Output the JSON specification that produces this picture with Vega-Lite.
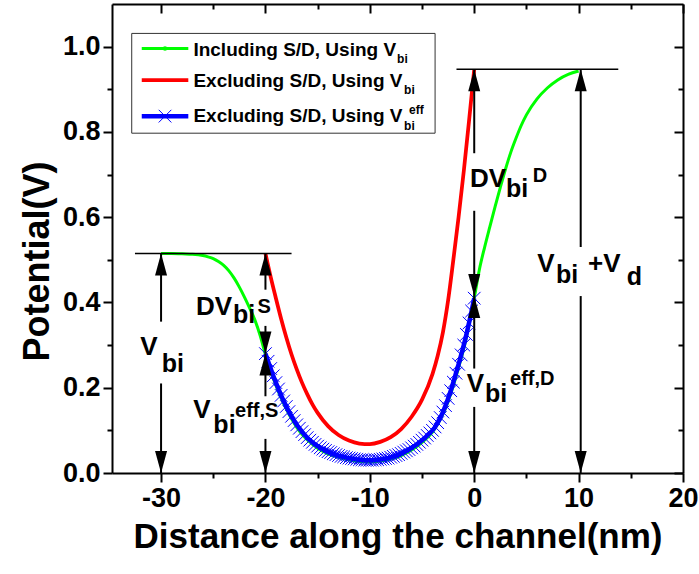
{
  "$schema": "https://vega.github.io/schema/vega-lite/v6.json",
  "width": 571,
  "height": 469,
  "autosize": "none",
  "padding": {"left": 112, "top": 4, "right": 16, "bottom": 101},
  "config": {
    "font": "Liberation Sans",
    "view": {"stroke": null},
    "axis": {
      "grid": false,
      "domainColor": "black",
      "domainWidth": 2,
      "tickColor": "black",
      "tickWidth": 2,
      "labelColor": "black",
      "titleColor": "black",
      "labelFont": "Liberation Sans",
      "titleFont": "Liberation Sans",
      "labelFontWeight": "bold",
      "titleFontWeight": "bold"
    }
  },
  "datasets": {
    "curves": [
      {"s": "incl", "x": -30, "y": 0.515}, {"s": "incl", "x": -29, "y": 0.515}, {"s": "incl", "x": -28, "y": 0.514},
      {"s": "incl", "x": -27, "y": 0.513}, {"s": "incl", "x": -26, "y": 0.51}, {"s": "incl", "x": -25.5, "y": 0.507},
      {"s": "incl", "x": -25, "y": 0.503}, {"s": "incl", "x": -24.5, "y": 0.496}, {"s": "incl", "x": -24, "y": 0.487},
      {"s": "incl", "x": -23.5, "y": 0.474}, {"s": "incl", "x": -23, "y": 0.457}, {"s": "incl", "x": -22.5, "y": 0.436},
      {"s": "incl", "x": -22, "y": 0.412}, {"s": "incl", "x": -21.5, "y": 0.386}, {"s": "incl", "x": -21, "y": 0.358},
      {"s": "incl", "x": -20.5, "y": 0.322}, {"s": "incl", "x": -20, "y": 0.278}, {"s": "incl", "x": -19.5, "y": 0.24},
      {"s": "incl", "x": -19, "y": 0.206}, {"s": "incl", "x": -18.5, "y": 0.176}, {"s": "incl", "x": -18, "y": 0.15},
      {"s": "incl", "x": -17.5, "y": 0.127}, {"s": "incl", "x": -17, "y": 0.107}, {"s": "incl", "x": -16.5, "y": 0.091},
      {"s": "incl", "x": -16, "y": 0.078}, {"s": "incl", "x": -15, "y": 0.058}, {"s": "incl", "x": -14, "y": 0.045},
      {"s": "incl", "x": -13, "y": 0.037}, {"s": "incl", "x": -12, "y": 0.031}, {"s": "incl", "x": -11, "y": 0.027},
      {"s": "incl", "x": -10, "y": 0.026}, {"s": "incl", "x": -9, "y": 0.028}, {"s": "incl", "x": -8, "y": 0.033},
      {"s": "incl", "x": -7, "y": 0.041}, {"s": "incl", "x": -6, "y": 0.054}, {"s": "incl", "x": -5, "y": 0.072},
      {"s": "incl", "x": -4, "y": 0.096}, {"s": "incl", "x": -3, "y": 0.138}, {"s": "incl", "x": -2.5, "y": 0.168},
      {"s": "incl", "x": -2, "y": 0.205}, {"s": "incl", "x": -1.5, "y": 0.247}, {"s": "incl", "x": -1, "y": 0.292},
      {"s": "incl", "x": -0.5, "y": 0.347}, {"s": "incl", "x": 0, "y": 0.41}, {"s": "incl", "x": 0.5, "y": 0.478},
      {"s": "incl", "x": 1, "y": 0.53}, {"s": "incl", "x": 1.5, "y": 0.578}, {"s": "incl", "x": 2, "y": 0.625},
      {"s": "incl", "x": 2.5, "y": 0.67}, {"s": "incl", "x": 3, "y": 0.713}, {"s": "incl", "x": 3.5, "y": 0.752},
      {"s": "incl", "x": 4, "y": 0.785}, {"s": "incl", "x": 4.5, "y": 0.815}, {"s": "incl", "x": 5, "y": 0.84},
      {"s": "incl", "x": 6, "y": 0.877}, {"s": "incl", "x": 7, "y": 0.903}, {"s": "incl", "x": 8, "y": 0.922},
      {"s": "incl", "x": 9, "y": 0.935}, {"s": "incl", "x": 10, "y": 0.943},

      {"s": "excl", "x": -20, "y": 0.515}, {"s": "excl", "x": -19.75, "y": 0.487}, {"s": "excl", "x": -19.5, "y": 0.46},
      {"s": "excl", "x": -19, "y": 0.41}, {"s": "excl", "x": -18.5, "y": 0.362}, {"s": "excl", "x": -18, "y": 0.318},
      {"s": "excl", "x": -17.5, "y": 0.278}, {"s": "excl", "x": -17, "y": 0.243}, {"s": "excl", "x": -16.5, "y": 0.212},
      {"s": "excl", "x": -16, "y": 0.185}, {"s": "excl", "x": -15.5, "y": 0.161}, {"s": "excl", "x": -15, "y": 0.141},
      {"s": "excl", "x": -14, "y": 0.11}, {"s": "excl", "x": -13, "y": 0.089}, {"s": "excl", "x": -12, "y": 0.076},
      {"s": "excl", "x": -11, "y": 0.069}, {"s": "excl", "x": -10.5, "y": 0.068}, {"s": "excl", "x": -10, "y": 0.068},
      {"s": "excl", "x": -9, "y": 0.073}, {"s": "excl", "x": -8, "y": 0.084}, {"s": "excl", "x": -7, "y": 0.103},
      {"s": "excl", "x": -6, "y": 0.132}, {"s": "excl", "x": -5, "y": 0.172}, {"s": "excl", "x": -4, "y": 0.232},
      {"s": "excl", "x": -3.5, "y": 0.275}, {"s": "excl", "x": -3, "y": 0.33}, {"s": "excl", "x": -2.5, "y": 0.405},
      {"s": "excl", "x": -2, "y": 0.5}, {"s": "excl", "x": -1.5, "y": 0.6}, {"s": "excl", "x": -1, "y": 0.708},
      {"s": "excl", "x": -0.5, "y": 0.825}, {"s": "excl", "x": 0, "y": 0.947},

      {"s": "eff", "x": -20, "y": 0.28}, {"s": "eff", "x": -19.75, "y": 0.262}, {"s": "eff", "x": -19.5, "y": 0.245},
      {"s": "eff", "x": -19.25, "y": 0.228}, {"s": "eff", "x": -19, "y": 0.212}, {"s": "eff", "x": -18.75, "y": 0.197},
      {"s": "eff", "x": -18.5, "y": 0.182}, {"s": "eff", "x": -18.25, "y": 0.169}, {"s": "eff", "x": -18, "y": 0.156},
      {"s": "eff", "x": -17.75, "y": 0.144}, {"s": "eff", "x": -17.5, "y": 0.133}, {"s": "eff", "x": -17.25, "y": 0.123},
      {"s": "eff", "x": -17, "y": 0.113}, {"s": "eff", "x": -16.75, "y": 0.105}, {"s": "eff", "x": -16.5, "y": 0.097},
      {"s": "eff", "x": -16.25, "y": 0.09}, {"s": "eff", "x": -16, "y": 0.083}, {"s": "eff", "x": -15.75, "y": 0.077},
      {"s": "eff", "x": -15.5, "y": 0.072}, {"s": "eff", "x": -15.25, "y": 0.067}, {"s": "eff", "x": -15, "y": 0.063},
      {"s": "eff", "x": -14.75, "y": 0.059}, {"s": "eff", "x": -14.5, "y": 0.056}, {"s": "eff", "x": -14.25, "y": 0.053},
      {"s": "eff", "x": -14, "y": 0.05}, {"s": "eff", "x": -13.75, "y": 0.048}, {"s": "eff", "x": -13.5, "y": 0.045},
      {"s": "eff", "x": -13.25, "y": 0.043}, {"s": "eff", "x": -13, "y": 0.041}, {"s": "eff", "x": -12.75, "y": 0.039},
      {"s": "eff", "x": -12.5, "y": 0.038}, {"s": "eff", "x": -12.25, "y": 0.036}, {"s": "eff", "x": -12, "y": 0.035},
      {"s": "eff", "x": -11.75, "y": 0.034}, {"s": "eff", "x": -11.5, "y": 0.033}, {"s": "eff", "x": -11.25, "y": 0.032},
      {"s": "eff", "x": -11, "y": 0.031}, {"s": "eff", "x": -10.75, "y": 0.031}, {"s": "eff", "x": -10.5, "y": 0.03},
      {"s": "eff", "x": -10.25, "y": 0.03}, {"s": "eff", "x": -10, "y": 0.03}, {"s": "eff", "x": -9.75, "y": 0.03},
      {"s": "eff", "x": -9.5, "y": 0.031}, {"s": "eff", "x": -9.25, "y": 0.031}, {"s": "eff", "x": -9, "y": 0.032},
      {"s": "eff", "x": -8.75, "y": 0.033}, {"s": "eff", "x": -8.5, "y": 0.034}, {"s": "eff", "x": -8.25, "y": 0.035},
      {"s": "eff", "x": -8, "y": 0.037}, {"s": "eff", "x": -7.75, "y": 0.039}, {"s": "eff", "x": -7.5, "y": 0.041},
      {"s": "eff", "x": -7.25, "y": 0.043}, {"s": "eff", "x": -7, "y": 0.046}, {"s": "eff", "x": -6.75, "y": 0.049},
      {"s": "eff", "x": -6.5, "y": 0.052}, {"s": "eff", "x": -6.25, "y": 0.055}, {"s": "eff", "x": -6, "y": 0.059},
      {"s": "eff", "x": -5.75, "y": 0.063}, {"s": "eff", "x": -5.5, "y": 0.067}, {"s": "eff", "x": -5.25, "y": 0.072},
      {"s": "eff", "x": -5, "y": 0.077}, {"s": "eff", "x": -4.75, "y": 0.082}, {"s": "eff", "x": -4.5, "y": 0.088},
      {"s": "eff", "x": -4.25, "y": 0.094}, {"s": "eff", "x": -4, "y": 0.1}, {"s": "eff", "x": -3.75, "y": 0.108},
      {"s": "eff", "x": -3.5, "y": 0.118}, {"s": "eff", "x": -3.25, "y": 0.13}, {"s": "eff", "x": -3, "y": 0.143},
      {"s": "eff", "x": -2.75, "y": 0.158}, {"s": "eff", "x": -2.5, "y": 0.175}, {"s": "eff", "x": -2.25, "y": 0.193},
      {"s": "eff", "x": -2, "y": 0.213}, {"s": "eff", "x": -1.75, "y": 0.234}, {"s": "eff", "x": -1.5, "y": 0.255},
      {"s": "eff", "x": -1.25, "y": 0.277}, {"s": "eff", "x": -1, "y": 0.3}, {"s": "eff", "x": -0.75, "y": 0.325},
      {"s": "eff", "x": -0.5, "y": 0.352}, {"s": "eff", "x": -0.25, "y": 0.38}, {"s": "eff", "x": 0, "y": 0.41}
    ],
    "levels": [
      {"x": -32.5, "x2": -17.5, "y": 0.515},
      {"x": -1.7, "x2": 13.8, "y": 0.947}
    ],
    "shafts": [
      {"x": -30, "y": 0.515, "y2": 0.355}, {"x": -30, "y": 0.21, "y2": 0},
      {"x": -20, "y": 0.515, "y2": 0.43}, {"x": -20, "y": 0.345, "y2": 0.28},
      {"x": -20, "y": 0.28, "y2": 0.18}, {"x": -20, "y": 0.08, "y2": 0},
      {"x": 0, "y": 0.947, "y2": 0.75}, {"x": 0, "y": 0.615, "y2": 0.415},
      {"x": 0, "y": 0.415, "y2": 0.245}, {"x": 0, "y": 0.155, "y2": 0},
      {"x": 10.2, "y": 0.947, "y2": 0.53}, {"x": 10.2, "y": 0.415, "y2": 0}
    ],
    "heads": [
      {"x": -30, "y": 0.515, "dir": "up"}, {"x": -30, "y": 0, "dir": "down"},
      {"x": -20, "y": 0.515, "dir": "up"}, {"x": -20, "y": 0.28, "dir": "down"},
      {"x": -20, "y": 0.28, "dir": "up"}, {"x": -20, "y": 0, "dir": "down"},
      {"x": 0, "y": 0.947, "dir": "up"}, {"x": 0, "y": 0.415, "dir": "down"},
      {"x": 0, "y": 0.415, "dir": "up"}, {"x": 0, "y": 0, "dir": "down"},
      {"x": 10.2, "y": 0.947, "dir": "up"}, {"x": 10.2, "y": 0, "dir": "down"}
    ],
    "labels": [
      {"x": -32.0, "y": 0.277, "t": "V", "kind": "main"},
      {"x": -29.93, "y": 0.2375, "t": "bi", "kind": "sub"},
      {"x": -26.65, "y": 0.3705, "t": "DV", "kind": "main"},
      {"x": -23.1, "y": 0.351, "t": "bi", "kind": "sub"},
      {"x": -20.75, "y": 0.3745, "t": "S", "kind": "sup"},
      {"x": -26.91, "y": 0.128, "t": "V", "kind": "main"},
      {"x": -24.99, "y": 0.093, "t": "bi", "kind": "sub"},
      {"x": -22.91, "y": 0.132, "t": "eff,S", "kind": "sup"},
      {"x": -0.4, "y": 0.671, "t": "DV", "kind": "main"},
      {"x": 3.05, "y": 0.648, "t": "bi", "kind": "sub"},
      {"x": 5.6, "y": 0.683, "t": "D", "kind": "sup"},
      {"x": -0.72, "y": 0.19, "t": "V", "kind": "main"},
      {"x": 1.03, "y": 0.167, "t": "bi", "kind": "sub"},
      {"x": 3.43, "y": 0.206, "t": "eff,D", "kind": "sup"},
      {"x": 6.04, "y": 0.472, "t": "V", "kind": "main"},
      {"x": 7.84, "y": 0.445, "t": "bi", "kind": "sub"},
      {"x": 10.9, "y": 0.472, "t": "+V", "kind": "main"},
      {"x": 14.61, "y": 0.441, "t": "d", "kind": "sub"},
      {"x": -26.9, "y": 0.978, "t": "Including S/D, Using V", "kind": "key"},
      {"x": -7.39, "y": 0.9605, "t": "bi", "kind": "keysmall"},
      {"x": -26.9, "y": 0.906, "t": "Excluding S/D, Using V", "kind": "key"},
      {"x": -6.72, "y": 0.89, "t": "bi", "kind": "keysmall"},
      {"x": -26.9, "y": 0.824, "t": "Excluding S/D, Using V", "kind": "key"},
      {"x": -6.72, "y": 0.804, "t": "bi", "kind": "keysmall"},
      {"x": -6.25, "y": 0.843, "t": "eff", "kind": "keysmall"}
    ],
    "keybox": [{"x": -32.81, "x2": -3.75, "y": 1.031, "y2": 0.797}],
    "keylines": [
      {"s": "incl", "x": -31.85, "x2": -27.39, "y": 0.9955},
      {"s": "excl", "x": -31.85, "x2": -27.39, "y": 0.9215},
      {"s": "eff", "x": -31.85, "x2": -27.39, "y": 0.837}
    ],
    "keymarks": [
      {"s": "incl", "x": -29.62, "y": 0.9955},
      {"s": "eff", "x": -29.62, "y": 0.837}
    ]
  },
  "layer": [
    {
      "data": {"name": "curves"},
      "transform": [{"filter": "datum.s === 'incl'"}],
      "mark": {"type": "line", "interpolate": "monotone"},
      "encoding": {
        "x": {
          "field": "x", "type": "quantitative",
          "scale": {"domain": [-34.7, 20], "nice": false, "zero": false},
          "axis": {
            "orient": "bottom",
            "values": [-30, -25, -20, -15, -10, -5, 0, 5, 10, 15, 20],
            "labelExpr": "datum.value % 10 === 0 ? '' + datum.value : ''",
            "tickSize": {"condition": {"test": "datum.value % 10 === 0", "value": 9}, "value": 5},
            "labelFontSize": 27,
            "labelPadding": 3,
            "labelFlush": false,
            "labelOverlap": false,
            "title": "Distance along the channel(nm)",
            "titleFontSize": 35,
            "titlePadding": 8
          }
        },
        "y": {
          "field": "y", "type": "quantitative",
          "scale": {"domain": [0, 1.1], "nice": false, "zero": false},
          "axis": {
            "orient": "left",
            "values": [0, 0.1, 0.2, 0.3, 0.4, 0.5, 0.6, 0.7, 0.8, 0.9, 1.0],
            "labelExpr": "round(datum.value * 10) % 2 === 0 ? format(datum.value, '.1f') : ''",
            "tickSize": {"condition": {"test": "round(datum.value * 10) % 2 === 0", "value": 9}, "value": 5},
            "labelFontSize": 27,
            "labelPadding": 3,
            "labelFlush": false,
            "labelOverlap": false,
            "title": "Potential(V)",
            "titleFontSize": 36,
            "titlePadding": 6,
            "titleY": 257
          }
        },
        "color": {"field": "s", "type": "nominal", "scale": {"domain": ["incl", "excl", "eff"], "range": ["#00ff00", "#ff0000", "#0000ff"]}, "legend": null},
        "strokeWidth": {"field": "s", "type": "nominal", "scale": {"domain": ["incl", "excl", "eff"], "range": [3, 4.5, 7]}, "legend": null}
      }
    },
    {
      "data": {"name": "curves"},
      "transform": [{"filter": "datum.s === 'excl'"}],
      "mark": {"type": "line", "interpolate": "monotone"},
      "encoding": {
        "x": {
          "field": "x", "type": "quantitative",
          "scale": {"domain": [-34.7, 20], "nice": false, "zero": false},
          "axis": {
            "orient": "top",
            "values": [-30, -25, -20, -15, -10, -5, 0, 5, 10, 15, 20],
            "labels": false,
            "title": null,
            "tickSize": {"condition": {"test": "datum.value % 10 === 0", "value": -9}, "value": -5}
          }
        },
        "y": {
          "field": "y", "type": "quantitative",
          "scale": {"domain": [0, 1.1], "nice": false, "zero": false},
          "axis": {
            "orient": "right",
            "values": [0, 0.1, 0.2, 0.3, 0.4, 0.5, 0.6, 0.7, 0.8, 0.9, 1.0],
            "labels": false,
            "title": null,
            "tickSize": {"condition": {"test": "round(datum.value * 10) % 2 === 0", "value": -9}, "value": -5}
          }
        },
        "color": {"field": "s", "type": "nominal", "scale": {"domain": ["incl", "excl", "eff"], "range": ["#00ff00", "#ff0000", "#0000ff"]}, "legend": null},
        "strokeWidth": {"field": "s", "type": "nominal", "scale": {"domain": ["incl", "excl", "eff"], "range": [3, 4.5, 7]}, "legend": null}
      }
    },
    {
      "data": {"name": "curves"},
      "transform": [{"filter": "datum.s === 'eff'"}],
      "mark": {"type": "line", "interpolate": "monotone"},
      "encoding": {
        "x": {"field": "x", "type": "quantitative", "scale": {"domain": [-34.7, 20], "nice": false, "zero": false}, "axis": null},
        "y": {"field": "y", "type": "quantitative", "scale": {"domain": [0, 1.1], "nice": false, "zero": false}, "axis": null},
        "color": {"field": "s", "type": "nominal", "scale": {"domain": ["incl", "excl", "eff"], "range": ["#00ff00", "#ff0000", "#0000ff"]}, "legend": null},
        "strokeWidth": {"field": "s", "type": "nominal", "scale": {"domain": ["incl", "excl", "eff"], "range": [3, 4.5, 7]}, "legend": null}
      }
    },
    {
      "data": {"name": "curves"},
      "transform": [{"filter": "datum.s === 'eff'"}],
      "mark": {"type": "point", "shape": "M-1,-1L1,1M-1,1L1,-1", "filled": false, "size": 160, "strokeWidth": 1, "opacity": 1},
      "encoding": {
        "x": {"field": "x", "type": "quantitative", "scale": {"domain": [-34.7, 20], "nice": false, "zero": false}, "axis": null},
        "y": {"field": "y", "type": "quantitative", "scale": {"domain": [0, 1.1], "nice": false, "zero": false}, "axis": null},
        "color": {"field": "s", "type": "nominal", "scale": {"domain": ["incl", "excl", "eff"], "range": ["#00ff00", "#ff0000", "#0000ff"]}, "legend": null}
      }
    },
    {
      "data": {"name": "levels"},
      "mark": {"type": "rule", "color": "black", "strokeWidth": 1.5},
      "encoding": {
        "x": {"field": "x", "type": "quantitative", "scale": {"domain": [-34.7, 20], "nice": false, "zero": false}, "axis": null},
        "x2": {"field": "x2"},
        "y": {"field": "y", "type": "quantitative", "scale": {"domain": [0, 1.1], "nice": false, "zero": false}, "axis": null}
      }
    },
    {
      "data": {"name": "shafts"},
      "mark": {"type": "rule", "color": "black", "strokeWidth": 2},
      "encoding": {
        "x": {"field": "x", "type": "quantitative", "scale": {"domain": [-34.7, 20], "nice": false, "zero": false}, "axis": null},
        "y": {"field": "y", "type": "quantitative", "scale": {"domain": [0, 1.1], "nice": false, "zero": false}, "axis": null},
        "y2": {"field": "y2"}
      }
    },
    {
      "data": {"name": "heads"},
      "mark": {"type": "point", "filled": true, "color": "black", "opacity": 1, "size": 400, "strokeWidth": 0},
      "encoding": {
        "x": {"field": "x", "type": "quantitative", "scale": {"domain": [-34.7, 20], "nice": false, "zero": false}, "axis": null},
        "y": {"field": "y", "type": "quantitative", "scale": {"domain": [0, 1.1], "nice": false, "zero": false}, "axis": null},
        "shape": {"field": "dir", "type": "nominal", "scale": {"domain": ["up", "down"], "range": ["M0,0L0.6,2.2L-0.6,2.2Z", "M0,0L0.6,-2.2L-0.6,-2.2Z"]}, "legend": null}
      }
    },
    {
      "data": {"name": "keybox"},
      "mark": {"type": "rect", "fill": "white", "stroke": "#333333", "strokeWidth": 1},
      "encoding": {
        "x": {"field": "x", "type": "quantitative", "scale": {"domain": [-34.7, 20], "nice": false, "zero": false}, "axis": null},
        "x2": {"field": "x2"},
        "y": {"field": "y", "type": "quantitative", "scale": {"domain": [0, 1.1], "nice": false, "zero": false}, "axis": null},
        "y2": {"field": "y2"}
      }
    },
    {
      "data": {"name": "keylines"},
      "mark": {"type": "rule"},
      "encoding": {
        "x": {"field": "x", "type": "quantitative", "scale": {"domain": [-34.7, 20], "nice": false, "zero": false}, "axis": null},
        "x2": {"field": "x2"},
        "y": {"field": "y", "type": "quantitative", "scale": {"domain": [0, 1.1], "nice": false, "zero": false}, "axis": null},
        "color": {"field": "s", "type": "nominal", "scale": {"domain": ["incl", "excl", "eff"], "range": ["#00ff00", "#ff0000", "#0000ff"]}, "legend": null},
        "strokeWidth": {"field": "s", "type": "nominal", "scale": {"domain": ["incl", "excl", "eff"], "range": [3, 4.5, 7]}, "legend": null}
      }
    },
    {
      "data": {"name": "keymarks"},
      "transform": [{"filter": "datum.s === 'incl'"}],
      "mark": {"type": "point", "shape": "circle", "filled": true, "opacity": 1, "size": 20},
      "encoding": {
        "x": {"field": "x", "type": "quantitative", "scale": {"domain": [-34.7, 20], "nice": false, "zero": false}, "axis": null},
        "y": {"field": "y", "type": "quantitative", "scale": {"domain": [0, 1.1], "nice": false, "zero": false}, "axis": null},
        "color": {"field": "s", "type": "nominal", "scale": {"domain": ["incl", "excl", "eff"], "range": ["#00ff00", "#ff0000", "#0000ff"]}, "legend": null}
      }
    },
    {
      "data": {"name": "keymarks"},
      "transform": [{"filter": "datum.s === 'eff'"}],
      "mark": {"type": "point", "shape": "M-1,-1L1,1M-1,1L1,-1", "filled": false, "opacity": 1, "size": 160, "strokeWidth": 1},
      "encoding": {
        "x": {"field": "x", "type": "quantitative", "scale": {"domain": [-34.7, 20], "nice": false, "zero": false}, "axis": null},
        "y": {"field": "y", "type": "quantitative", "scale": {"domain": [0, 1.1], "nice": false, "zero": false}, "axis": null},
        "color": {"field": "s", "type": "nominal", "scale": {"domain": ["incl", "excl", "eff"], "range": ["#00ff00", "#ff0000", "#0000ff"]}, "legend": null}
      }
    },
    {
      "data": {"name": "labels"},
      "transform": [{"filter": "datum.kind === 'main'"}],
      "mark": {"type": "text", "align": "left", "baseline": "alphabetic", "font": "Liberation Sans", "fontWeight": "bold", "color": "black", "fontSize": 26},
      "encoding": {
        "x": {"field": "x", "type": "quantitative", "scale": {"domain": [-34.7, 20], "nice": false, "zero": false}, "axis": null},
        "y": {"field": "y", "type": "quantitative", "scale": {"domain": [0, 1.1], "nice": false, "zero": false}, "axis": null},
        "text": {"field": "t"}
      }
    },
    {
      "data": {"name": "labels"},
      "transform": [{"filter": "datum.kind === 'sub'"}],
      "mark": {"type": "text", "align": "left", "baseline": "alphabetic", "font": "Liberation Sans", "fontWeight": "bold", "color": "black", "fontSize": 25},
      "encoding": {
        "x": {"field": "x", "type": "quantitative", "scale": {"domain": [-34.7, 20], "nice": false, "zero": false}, "axis": null},
        "y": {"field": "y", "type": "quantitative", "scale": {"domain": [0, 1.1], "nice": false, "zero": false}, "axis": null},
        "text": {"field": "t"}
      }
    },
    {
      "data": {"name": "labels"},
      "transform": [{"filter": "datum.kind === 'sup'"}],
      "mark": {"type": "text", "align": "left", "baseline": "alphabetic", "font": "Liberation Sans", "fontWeight": "bold", "color": "black", "fontSize": 20},
      "encoding": {
        "x": {"field": "x", "type": "quantitative", "scale": {"domain": [-34.7, 20], "nice": false, "zero": false}, "axis": null},
        "y": {"field": "y", "type": "quantitative", "scale": {"domain": [0, 1.1], "nice": false, "zero": false}, "axis": null},
        "text": {"field": "t"}
      }
    },
    {
      "data": {"name": "labels"},
      "transform": [{"filter": "datum.kind === 'key'"}],
      "mark": {"type": "text", "align": "left", "baseline": "alphabetic", "font": "Liberation Sans", "fontWeight": "bold", "color": "black", "fontSize": 19},
      "encoding": {
        "x": {"field": "x", "type": "quantitative", "scale": {"domain": [-34.7, 20], "nice": false, "zero": false}, "axis": null},
        "y": {"field": "y", "type": "quantitative", "scale": {"domain": [0, 1.1], "nice": false, "zero": false}, "axis": null},
        "text": {"field": "t"}
      }
    },
    {
      "data": {"name": "labels"},
      "transform": [{"filter": "datum.kind === 'keysmall'"}],
      "mark": {"type": "text", "align": "left", "baseline": "alphabetic", "font": "Liberation Sans", "fontWeight": "bold", "color": "black", "fontSize": 12},
      "encoding": {
        "x": {"field": "x", "type": "quantitative", "scale": {"domain": [-34.7, 20], "nice": false, "zero": false}, "axis": null},
        "y": {"field": "y", "type": "quantitative", "scale": {"domain": [0, 1.1], "nice": false, "zero": false}, "axis": null},
        "text": {"field": "t"}
      }
    }
  ],
  "resolve": {"axis": {"x": "independent", "y": "independent"}}
}
